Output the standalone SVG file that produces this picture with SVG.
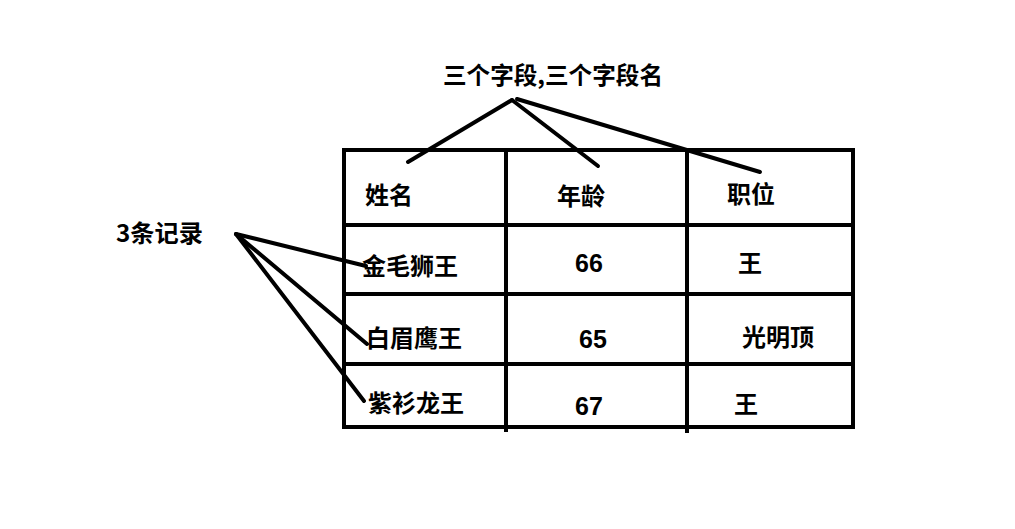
<svg xmlns="http://www.w3.org/2000/svg" width="1015" height="529" viewBox="0 0 1015 529">
<style>
text{font-family:"Noto Sans CJK SC","Liberation Sans",sans-serif;font-weight:bold;font-size:24px;fill:#000}
.num{font-family:"Liberation Sans","Noto Sans CJK SC",sans-serif;font-size:25px}
.grid line{stroke:#000;stroke-width:4;stroke-linecap:square}
.conn line{stroke:#000;stroke-width:4;stroke-linecap:round}
</style>
<rect width="1015" height="529" fill="#fff"/>
<g id="table" class="grid">
<line x1="344" y1="150" x2="853" y2="150"/>
<line x1="344" y1="225" x2="853" y2="225"/>
<line x1="344" y1="294" x2="853" y2="294"/>
<line x1="344" y1="364" x2="853" y2="364"/>
<line x1="344" y1="427" x2="853" y2="427"/>
<line x1="344" y1="150" x2="344" y2="427"/>
<line x1="506" y1="150" x2="506" y2="430"/>
<line x1="687" y1="150" x2="687" y2="431"/>
<line x1="853" y1="150" x2="853" y2="427"/>
</g>
<g id="connectors" class="conn">
<line x1="512" y1="100" x2="408" y2="162"/>
<line x1="512" y1="100" x2="598" y2="166"/>
<line x1="517" y1="99" x2="760" y2="172"/>
<line x1="236" y1="234" x2="366" y2="266"/>
<line x1="236" y1="234" x2="367" y2="344"/>
<line x1="236" y1="234" x2="364" y2="401"/>
</g>
<g id="title"><text x="443" y="84" textLength="220" lengthAdjust="spacingAndGlyphs">三个字段,三个字段名</text></g>
<g id="records-label"><text x="116" y="242" textLength="87" lengthAdjust="spacingAndGlyphs">3条记录</text></g>
<g id="h-name"><text x="365" y="204">姓名</text></g>
<g id="h-age"><text x="557" y="205">年龄</text></g>
<g id="h-pos"><text x="727" y="203">职位</text></g>
<g id="r1-name"><text x="362" y="275">金毛狮王</text></g>
<g id="r1-age"><text class="num" x="575" y="272">66</text></g>
<g id="r1-pos"><text x="738" y="272">王</text></g>
<g id="r2-name"><text x="366" y="347">白眉鹰王</text></g>
<g id="r2-age"><text class="num" x="579" y="348">65</text></g>
<g id="r2-pos"><text x="742" y="346">光明顶</text></g>
<g id="r3-name"><text x="368" y="412">紫衫龙王</text></g>
<g id="r3-age"><text class="num" x="575" y="415">67</text></g>
<g id="r3-pos"><text x="734" y="413">王</text></g>
</svg>
